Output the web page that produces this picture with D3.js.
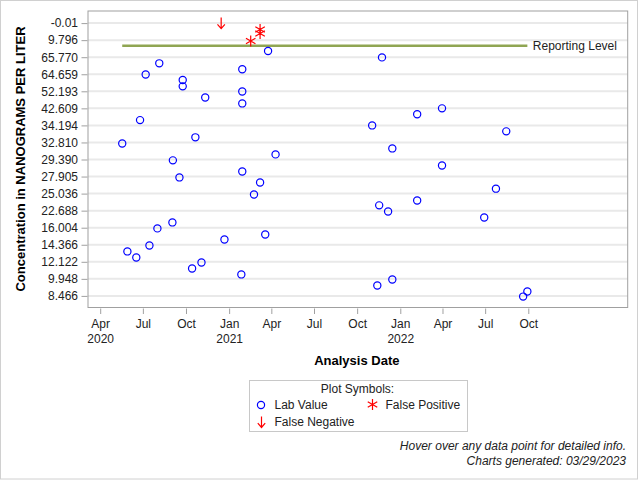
<!DOCTYPE html>
<html>
<head>
<meta charset="utf-8">
<script src="https://cdn.jsdelivr.net/npm/d3@7"></script>
<style>
  html, body { margin: 0; padding: 0; background: #fff; }
  text { font-family: Arial, "Liberation Sans", sans-serif; }
</style>
</head>
<body>
<svg id="chart" width="640" height="480"></svg>
<script>
// ---- Data ----
// Y axis is an ordinal-style axis: tick labels from bottom (index 0) to top (index 16)
const yTickLabels = ["8.466", "9.948", "12.122", "14.366", "16.004", "22.688", "25.036", "27.905",
  "29.390", "32.810", "34.194", "42.609", "52.193", "64.659", "65.770", "9.796", "-0.01"];

const labDates = ["2020-05-18", "2020-05-29", "2020-06-17", "2020-06-25", "2020-07-07", "2020-07-15",
  "2020-08-01", "2020-08-05", "2020-09-02", "2020-09-03", "2020-09-17", "2020-09-24", "2020-09-24",
  "2020-10-14", "2020-10-21", "2020-11-03", "2020-11-11", "2020-12-22", "2021-01-27", "2021-01-29",
  "2021-01-29", "2021-01-29", "2021-01-29", "2021-02-23", "2021-03-08", "2021-03-19", "2021-03-25",
  "2021-04-10", "2021-11-02", "2021-11-13", "2021-11-17", "2021-11-23", "2021-12-06", "2021-12-15",
  "2021-12-15", "2022-02-06", "2022-02-06", "2022-03-31", "2022-03-31", "2022-06-29", "2022-07-24",
  "2022-08-15", "2022-09-20", "2022-09-29"];
const labPos = [8.94, 2.61, 2.25, 10.31, 12.99, 2.96,
  3.96, 13.64, 4.31, 7.95, 6.95, 12.66, 12.29,
  1.61, 9.30, 1.96, 11.64, 3.31, 1.26, 13.29,
  11.99, 11.29, 7.30, 5.95, 6.65, 3.60, 14.36,
  8.30, 10.00, 0.61, 5.31, 13.99, 4.95, 8.65,
  0.96, 10.65, 5.60, 11.00, 7.65, 4.60, 6.29,
  9.65, -0.04, 0.26];

const fpDates = ["2021-02-16", "2021-03-08", "2021-03-08"];
const fpPos = [14.95, 15.39, 15.62];

const fnDates = ["2020-12-15"];
const fnPos = [16.0];

const reportingLevelPos = 14.67;
const reportingLevelLabel = "Reporting Level";

// ---- Setup ----
const svg = d3.select("#chart");
const parse = d3.utcParse("%Y-%m-%d");
const plot = { left: 88, right: 627.7, top: 11, bottom: 307.5 };

const x = d3.scaleUtc()
  .domain([parse("2020-03-06"), parse("2023-05-01")])
  .range([plot.left, plot.right]);
const y = d3.scaleLinear()
  .domain([-0.68, 16.71])
  .range([plot.bottom, plot.top]);

// outer border
svg.append("rect").attr("x", 0.5).attr("y", 0.5).attr("width", 637).attr("height", 478.5)
  .attr("fill", "none").attr("stroke", "#d0d0d0");

// gridlines
svg.append("g").selectAll("line").data(d3.range(yTickLabels.length)).join("line")
  .attr("x1", plot.left).attr("x2", plot.right)
  .attr("y1", d => y(d)).attr("y2", d => y(d))
  .attr("stroke", "#e9e9e9").attr("stroke-width", 2);

// frame
svg.append("rect").attr("x", plot.left).attr("y", plot.top)
  .attr("width", plot.right - plot.left).attr("height", plot.bottom - plot.top)
  .attr("fill", "none").attr("stroke", "#a0a0a0").attr("stroke-width", 1);

// Y axis
const yAxis = svg.append("g").attr("transform", `translate(${plot.left - 0.5},0)`)
  .call(d3.axisLeft(y).tickValues(d3.range(yTickLabels.length))
    .tickFormat(i => yTickLabels[i]).tickSize(6).tickPadding(3.5).tickSizeOuter(0));
yAxis.select(".domain").remove();
yAxis.selectAll(".tick line").attr("stroke", "#a0a0a0");
yAxis.selectAll(".tick text").attr("font-size", 12).attr("fill", "#222")
  .attr("font-family", "Arial, 'Liberation Sans', sans-serif");

// X axis
const xTicks = d3.utcMonths(parse("2020-04-01"), parse("2022-10-02"), 3);
const xAxis = svg.append("g").attr("transform", `translate(0,${plot.bottom + 1})`)
  .call(d3.axisBottom(x).tickValues(xTicks).tickFormat("").tickSize(5.5).tickSizeOuter(0));
xAxis.select(".domain").remove();
xAxis.selectAll(".tick line").attr("stroke", "#a0a0a0");
xAxis.selectAll(".tick").each(function(d, i) {
  const g = d3.select(this);
  g.append("text").attr("y", 15.5).attr("dy", "0.35em").attr("text-anchor", "middle")
    .attr("font-size", 12).attr("fill", "#222").text(d3.utcFormat("%b")(d));
  if (i === 0 || d.getUTCMonth() === 0) {
    g.append("text").attr("y", 30.5).attr("dy", "0.35em").attr("text-anchor", "middle")
      .attr("font-size", 12).attr("fill", "#222").text(d3.utcFormat("%Y")(d));
  }
});

// Axis titles
svg.append("text").attr("x", (plot.left + plot.right) / 2 - 1).attr("y", 360).attr("dy", "0.35em")
  .attr("text-anchor", "middle").attr("font-size", 13).attr("font-weight", "bold").attr("fill", "#000")
  .text("Analysis Date");
svg.append("text").attr("transform", "translate(20,159) rotate(-90)").attr("dy", "0.35em")
  .attr("text-anchor", "middle").attr("font-size", 13).attr("font-weight", "bold").attr("fill", "#000")
  .text("Concentration in NANOGRAMS PER LITER");

// Reporting level line
const allDates = labDates.concat(fpDates, fnDates).map(parse);
const ext = d3.extent(allDates);
svg.append("line").attr("x1", x(ext[0])).attr("x2", x(ext[1]))
  .attr("y1", y(reportingLevelPos)).attr("y2", y(reportingLevelPos))
  .attr("stroke", "#8fa552").attr("stroke-width", 2.5);
svg.append("text").attr("x", x(ext[1]) + 5.5).attr("y", y(reportingLevelPos)).attr("dy", "0.35em")
  .attr("font-size", 12).attr("fill", "#222").text(reportingLevelLabel);

// marker helpers
function starPath(r) {
  const a = Math.PI / 6;
  const c = Math.cos(a) * r, s = Math.sin(a) * r;
  return `M0,${-r}L0,${r}M${-c},${-s}L${c},${s}M${-c},${s}L${c},${-s}`;
}
function arrowPath() {
  return "M0,-5.5L0,5.5M-3.7,1.2L0,5.5L3.7,1.2";
}

// Lab values
svg.append("g").selectAll("circle").data(labDates.map((d, i) => ({ d: parse(d), v: labPos[i] })))
  .join("circle")
  .attr("cx", p => x(p.d)).attr("cy", p => y(p.v)).attr("r", 3.6)
  .attr("fill", "none").attr("stroke", "#0000ff").attr("stroke-width", 1.2);

// False positives
svg.append("g").selectAll("path").data(fpDates.map((d, i) => ({ d: parse(d), v: fpPos[i] })))
  .join("path")
  .attr("transform", p => `translate(${x(p.d)},${y(p.v)})`)
  .attr("d", starPath(5.5)).attr("fill", "none").attr("stroke", "#ff0000").attr("stroke-width", 1.2);

// False negatives
svg.append("g").selectAll("path").data(fnDates.map((d, i) => ({ d: parse(d), v: fnPos[i] })))
  .join("path")
  .attr("transform", p => `translate(${x(p.d)},${y(p.v)})`)
  .attr("d", arrowPath()).attr("fill", "none").attr("stroke", "#ff0000").attr("stroke-width", 1.2);

// Legend
const lg = svg.append("g");
lg.append("rect").attr("x", 249.5).attr("y", 380.5).attr("width", 218).attr("height", 51)
  .attr("fill", "none").attr("stroke", "#c8c8c8");
lg.append("text").attr("x", 357.5).attr("y", 389).attr("dy", "0.35em").attr("text-anchor", "middle")
  .attr("font-size", 12).attr("fill", "#222").text("Plot Symbols:");
lg.append("circle").attr("cx", 261).attr("cy", 405).attr("r", 3.6)
  .attr("fill", "none").attr("stroke", "#0000ff").attr("stroke-width", 1.2);
lg.append("text").attr("x", 274.5).attr("y", 405).attr("dy", "0.35em")
  .attr("font-size", 12).attr("fill", "#222").text("Lab Value");
lg.append("path").attr("transform", "translate(372.5,404.5)").attr("d", starPath(5.5))
  .attr("fill", "none").attr("stroke", "#ff0000").attr("stroke-width", 1.2);
lg.append("text").attr("x", 385.5).attr("y", 405).attr("dy", "0.35em")
  .attr("font-size", 12).attr("fill", "#222").text("False Positive");
lg.append("path").attr("transform", "translate(261.5,422)").attr("d", arrowPath())
  .attr("fill", "none").attr("stroke", "#ff0000").attr("stroke-width", 1.2);
lg.append("text").attr("x", 274.5).attr("y", 422).attr("dy", "0.35em")
  .attr("font-size", 12).attr("fill", "#222").text("False Negative");

// Footnotes
svg.append("text").attr("x", 626).attr("y", 446).attr("dy", "0.35em").attr("text-anchor", "end")
  .attr("font-size", 12).attr("font-style", "italic").attr("fill", "#222")
  .text("Hover over any data point for detailed info.");
svg.append("text").attr("x", 626).attr("y", 460.5).attr("dy", "0.35em").attr("text-anchor", "end")
  .attr("font-size", 12).attr("font-style", "italic").attr("fill", "#222")
  .text("Charts generated: 03/29/2023");
</script>
</body>
</html>
